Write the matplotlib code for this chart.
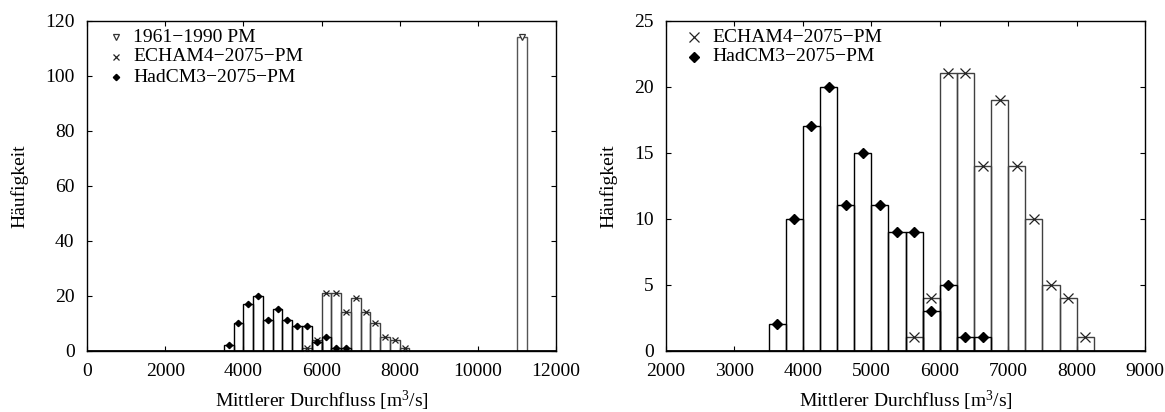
import numpy as np
import matplotlib
matplotlib.use("Agg")
import matplotlib.pyplot as plt

plt.rcParams['font.family'] = ['Liberation Serif', 'DejaVu Serif']
plt.rcParams['mathtext.fontset'] = 'custom'
plt.rcParams['mathtext.rm'] = 'Liberation Serif'
plt.rcParams['mathtext.it'] = 'Liberation Serif:italic'
plt.rcParams['font.size'] = 14

bin_width = 250
# HadCM3-2075-PM: bin centres and counts
had_centers = [3625, 3875, 4125, 4375, 4625, 4875, 5125, 5375, 5625, 5875, 6125, 6375, 6625]
had_counts = [2, 10, 17, 20, 11, 15, 11, 9, 9, 3, 5, 1, 1]
# ECHAM4-2075-PM
ech_centers = [5625, 5875, 6125, 6375, 6625, 6875, 7125, 7375, 7625, 7875, 8125]
ech_counts = [1, 4, 21, 21, 14, 19, 14, 10, 5, 4, 1]
# 1961-1990 PM
ref_centers = [11125]
ref_counts = [114]

label_ref = "1961\u22121990 PM"
label_ech = "ECHAM4\u22122075\u2212PM"
label_had = "HadCM3\u22122075\u2212PM"

fig = plt.figure(figsize=(11.65, 4.12), dpi=100)
axL = fig.add_axes([0.0747, 0.1488, 0.4026, 0.801])
axR = fig.add_axes([0.5717, 0.1488, 0.4112, 0.801])

FS = 14

def draw(ax, ms_x, ms_d, ms_t, with_ref, mx, tx, rows):
    ax.bar(ech_centers, ech_counts, width=bin_width, fill=False, edgecolor='#404040', linewidth=1.0, zorder=2)
    ax.bar(had_centers, had_counts, width=bin_width, fill=False, edgecolor='black', linewidth=1.0, zorder=3)
    entries = []
    if with_ref:
        ax.bar(ref_centers, ref_counts, width=bin_width, fill=False, edgecolor='#555555', linewidth=1.0, zorder=2)
        tri_style = dict(linestyle='none', marker='v', markersize=ms_t, markerfacecolor='white',
                         markeredgecolor='#333333', markeredgewidth=0.9)
        ax.plot(ref_centers, ref_counts, zorder=4, **tri_style)
        entries.append((label_ref, tri_style))
    x_style = dict(linestyle='none', marker='x', markersize=ms_x, color='#222222', markeredgewidth=0.9)
    d_style = dict(linestyle='none', marker='D', markersize=ms_d, color='black')
    ax.plot(ech_centers, ech_counts, zorder=4, **x_style)
    ax.plot(had_centers, had_counts, zorder=5, **d_style)
    entries.append((label_ech, x_style))
    entries.append((label_had, d_style))
    ax.axhline(0, color='black', linewidth=2.0, zorder=6)
    for (lab, st), yy in zip(entries, rows):
        ax.plot([mx], [yy], transform=ax.transAxes, clip_on=False, **st)
        ax.text(tx, yy, lab, transform=ax.transAxes, ha='left', va='center', fontsize=FS)
    ax.tick_params(direction='in', top=True, right=True, length=3.5, width=0.8,
                   labelsize=FS, pad=9)
    ax.set_ylabel("Häufigkeit", fontsize=FS, labelpad=12)
    ax.set_xlabel("Mittlerer Durchfluss [m$^3$/s]", fontsize=FS, labelpad=6)
    for s in ax.spines.values():
        s.set_linewidth(1.0)

draw(axL, 4, 3.2, 4.5, True, 0.0618, 0.098, [0.950, 0.890, 0.829])
axL.set_xlim(0, 12000)
axL.set_ylim(0, 120)
axL.set_xticks(np.arange(0, 12001, 2000))
axL.set_yticks(np.arange(0, 121, 20))

draw(axR, 7, 5, 6, False, 0.0585, 0.096, [0.950, 0.890])
axR.set_xlim(2000, 9000)
axR.set_ylim(0, 25)
axR.set_xticks(np.arange(2000, 9001, 1000))
axR.set_yticks(np.arange(0, 26, 5))

fig.savefig("out.png", dpi=100)
